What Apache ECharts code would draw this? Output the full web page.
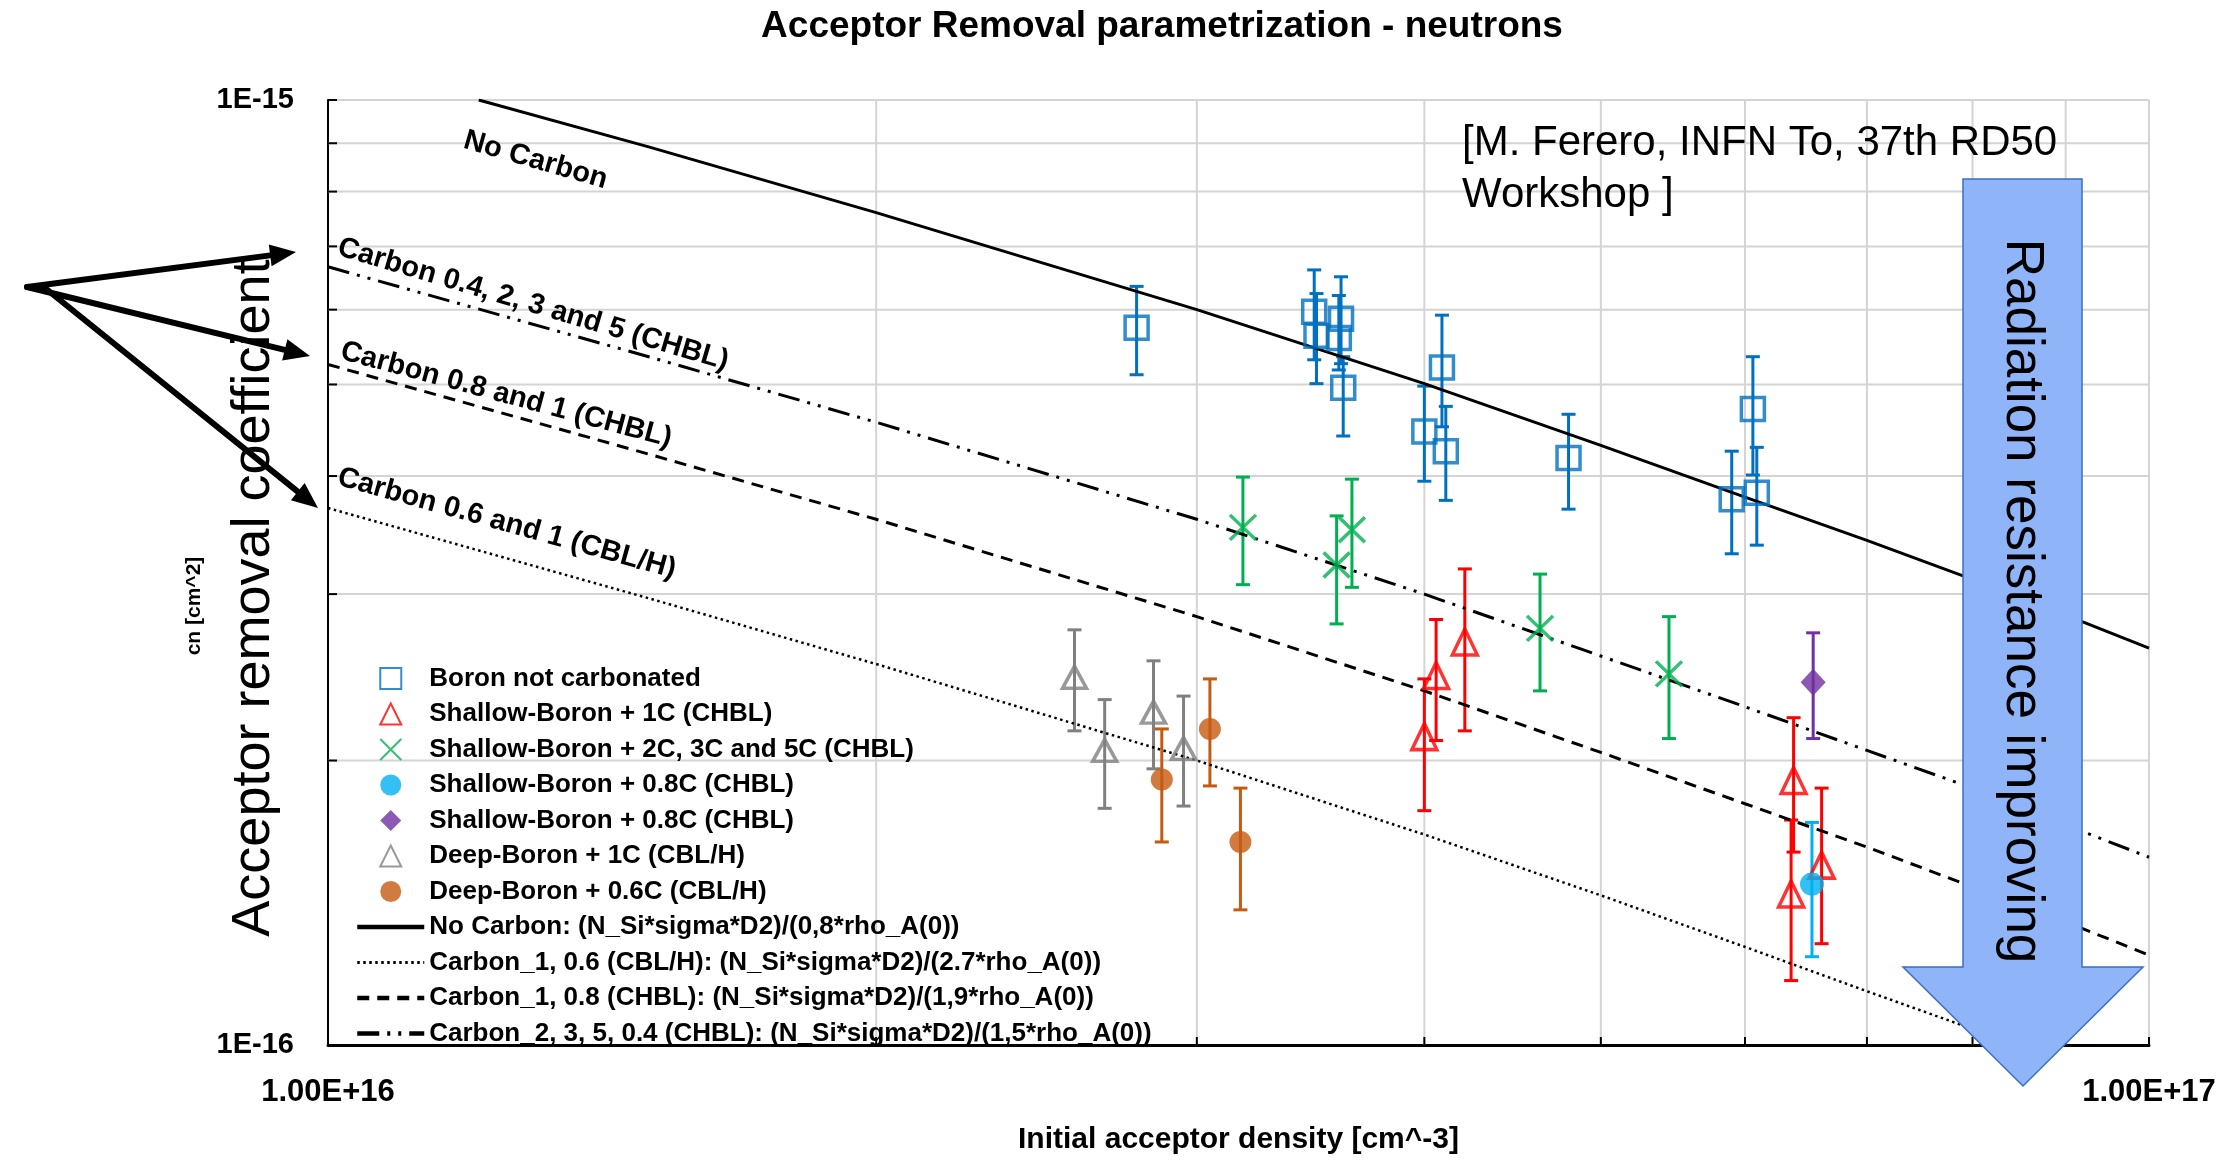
<!DOCTYPE html>
<html>
<head>
<meta charset="utf-8">
<script src="https://cdn.jsdelivr.net/npm/echarts@6/dist/echarts.min.js"></script>
<style>
  html, body { margin: 0; padding: 0; background: #ffffff; }
  #chart { width: 2239px; height: 1160px; }
</style>
</head>
<body>
<div id="chart"></div>
<script>
// ---- measured points: [density (cm^-3), c (cm^2), error low, error high] ----
const boronNotCarbonated = [
  [2.78e16, 5.74e-16, 5.12e-16, 6.35e-16],
  [3.48e16, 5.97e-16, 5.31e-16, 6.61e-16],
  [3.49e16, 5.63e-16, 5.01e-16, 6.24e-16],
  [3.60e16, 5.87e-16, 5.26e-16, 6.50e-16],
  [3.59e16, 5.60e-16, 5.18e-16, 6.21e-16],
  [3.61e16, 4.96e-16, 4.41e-16, 5.35e-16],
  [4.00e16, 4.46e-16, 3.95e-16, 4.98e-16],
  [4.09e16, 5.21e-16, 4.51e-16, 5.92e-16],
  [4.11e16, 4.25e-16, 3.77e-16, 4.74e-16],
  [4.80e16, 4.18e-16, 3.69e-16, 4.65e-16],
  [5.90e16, 3.78e-16, 3.31e-16, 4.25e-16],
  [6.06e16, 4.71e-16, 4.01e-16, 5.35e-16],
  [6.09e16, 3.84e-16, 3.38e-16, 4.29e-16]
];
const shallowBoron1C = [
  [4.00e16, 2.12e-16, 1.77e-16, 2.44e-16],
  [4.06e16, 2.46e-16, 2.10e-16, 2.82e-16],
  [4.21e16, 2.67e-16, 2.15e-16, 3.19e-16],
  [6.38e16, 1.905e-16, 1.60e-16, 2.22e-16],
  [6.36e16, 1.445e-16, 1.17e-16, 1.73e-16],
  [6.61e16, 1.55e-16, 1.28e-16, 1.87e-16]
];
const shallowBoron235C = [
  [3.18e16, 3.53e-16, 3.07e-16, 3.99e-16],
  [3.58e16, 3.22e-16, 2.79e-16, 3.63e-16],
  [3.65e16, 3.51e-16, 3.05e-16, 3.97e-16],
  [4.63e16, 2.76e-16, 2.37e-16, 3.15e-16],
  [5.45e16, 2.47e-16, 2.11e-16, 2.84e-16]
];
const shallowBoron08C_a = [
  [6.53e16, 1.48e-16, 1.24e-16, 1.72e-16]
];
const shallowBoron08C_b = [
  [6.54e16, 2.42e-16, 2.11e-16, 2.73e-16]
];
const deepBoron1C = [
  [2.57e16, 2.45e-16, 2.15e-16, 2.75e-16],
  [2.67e16, 2.05e-16, 1.78e-16, 2.32e-16],
  [2.84e16, 2.25e-16, 1.96e-16, 2.55e-16],
  [2.95e16, 2.06e-16, 1.79e-16, 2.34e-16]
];
const deepBoron06C = [
  [2.87e16, 1.91e-16, 1.64e-16, 2.16e-16],
  [3.05e16, 2.16e-16, 1.88e-16, 2.44e-16],
  [3.17e16, 1.64e-16, 1.39e-16, 1.87e-16]
];

// ---- parametrization curves ----
const noCarbonX = [1.21e16, 1.5e16, 2e16, 3e16, 4e16, 5e16, 6e16, 7e16, 8e16, 9e16, 1e17];
const noCarbonY = [1.00e-15, 8.92e-16, 7.60e-16, 6.00e-16, 5.01e-16, 4.31e-16, 3.80e-16, 3.42e-16, 3.11e-16, 2.85e-16, 2.63e-16];
const carbonX = [1e16, 1.5e16, 2e16, 3e16, 4e16, 5e16, 6e16, 7e16, 8e16, 9e16, 1e17];
const carbon2350p4Y = [6.66e-16, 5.35e-16, 4.56e-16, 3.60e-16, 3.00e-16, 2.58e-16, 2.28e-16, 2.05e-16, 1.87e-16, 1.71e-16, 1.58e-16];
const carbon1_08Y = [5.25e-16, 4.22e-16, 3.60e-16, 2.84e-16, 2.37e-16, 2.04e-16, 1.80e-16, 1.62e-16, 1.47e-16, 1.35e-16, 1.245e-16];
const carbon1_06X = [1e16, 1.5e16, 2e16, 3e16, 4e16, 5e16, 6e16, 7e16, 8e16, 8.4e16];
const carbon1_06Y = [3.70e-16, 2.97e-16, 2.53e-16, 2.00e-16, 1.67e-16, 1.44e-16, 1.27e-16, 1.14e-16, 1.04e-16, 1.00e-16];

// ---- axes ----
const X_MIN = 1e16, X_MAX = 1e17;
const Y_MIN = 1e-16, Y_MAX = 1e-15;
const xMinorGrid = [2e16, 3e16, 4e16, 5e16, 6e16, 7e16, 8e16, 9e16];
const yMinorGrid = [2e-16, 3e-16, 4e-16, 5e-16, 6e-16, 7e-16, 8e-16, 9e-16];

const FONT = '"Liberation Sans", Arial, sans-serif';
const GRID_COLOR = '#D4D4D4';

const names = {
  boron: 'Boron not carbonated',
  sb1: 'Shallow-Boron + 1C (CHBL)',
  sb235: 'Shallow-Boron + 2C, 3C and 5C (CHBL)',
  sb08a: 'Shallow-Boron + 0.8C (CHBL)',
  sb08b: 'Shallow-Boron + 0.8C (CHBL) ',
  db1: 'Deep-Boron + 1C (CBL/H)',
  db06: 'Deep-Boron + 0.6C (CBL/H)',
  noC: 'No Carbon: (N_Si*sigma*D2)/(0,8*rho_A(0))',
  c06: 'Carbon_1, 0.6 (CBL/H): (N_Si*sigma*D2)/(2.7*rho_A(0))',
  c08: 'Carbon_1, 0.8 (CHBL): (N_Si*sigma*D2)/(1,9*rho_A(0))',
  c04: 'Carbon_2, 3, 5, 0.4 (CHBL): (N_Si*sigma*D2)/(1,5*rho_A(0))'
};

// square-proportioned legend glyphs
const ICON_SQUARE = 'path://M0,0H10V10H0Z';
const ICON_TRIANGLE = 'path://M5,0L10,10L0,10Z';
const ICON_CROSS = 'path://M0,0L10,10M10,0L0,10';
const ICON_CIRCLE = 'path://M0,5A5,5,0,1,0,10,5A5,5,0,1,0,0,5Z';
const ICON_DIAMOND = 'path://M5,0L10,5L5,10L0,5Z';

function zip(xs, ys) { return xs.map((x, i) => [x, ys[i]]); }

// vertical error bar with caps
function errorBarSeries(data, color) {
  return {
    type: 'custom',
    data: data,
    encode: { x: 0, y: 1 },
    z: 3,
    silent: true,
    renderItem: function (params, api) {
      const x = api.value(0);
      const lo = api.coord([x, api.value(2)]);
      const hi = api.coord([x, api.value(3)]);
      const cap = 7;
      const st = { stroke: color, lineWidth: 3 };
      return {
        type: 'group',
        children: [
          { type: 'line', shape: { x1: lo[0], y1: lo[1], x2: hi[0], y2: hi[1] }, style: st },
          { type: 'line', shape: { x1: lo[0] - cap, y1: lo[1], x2: lo[0] + cap, y2: lo[1] }, style: st },
          { type: 'line', shape: { x1: hi[0] - cap, y1: hi[1], x2: hi[0] + cap, y2: hi[1] }, style: st }
        ]
      };
    }
  };
}

function markerSeries(name, data, symbol, size, color, hollow) {
  return {
    name: name,
    type: 'scatter',
    data: data,
    encode: { x: 0, y: 1 },
    symbol: symbol,
    symbolSize: size,
    z: 5,
    itemStyle: hollow
      ? { color: 'rgba(255,255,255,0)', borderColor: color, borderWidth: 3.5 }
      : { color: color, borderWidth: 0 }
  };
}

function curveSeries(name, data, dash, width) {
  return {
    name: name,
    type: 'line',
    data: data,
    symbol: 'none',
    showSymbol: false,
    clip: true,
    z: 4,
    lineStyle: { color: '#000000', width: width, type: dash, cap: 'butt' },
    itemStyle: { color: '#000000' }
  };
}

// minor grid lines with short inner ticks
function minorGridSeries(values, isX) {
  return {
    type: 'custom',
    silent: true,
    z: 1,
    data: values.map(v => isX ? [v, Y_MIN] : [X_MIN, v]),
    encode: { x: 0, y: 1 },
    renderItem: function (params, api) {
      const a = api.coord(isX ? [api.value(0), Y_MIN] : [X_MIN, api.value(1)]);
      const b = api.coord(isX ? [api.value(0), Y_MAX] : [X_MAX, api.value(1)]);
      const tick = isX
        ? { x1: a[0], y1: a[1], x2: a[0], y2: a[1] - 8 }
        : { x1: a[0], y1: a[1], x2: a[0] + 9, y2: a[1] };
      return {
        type: 'group',
        children: [
          { type: 'line', shape: { x1: a[0], y1: a[1], x2: b[0], y2: b[1] }, style: { stroke: GRID_COLOR, lineWidth: 2 } },
          { type: 'line', shape: tick, style: { stroke: '#000000', lineWidth: 2 } }
        ]
      };
    }
  };
}

// black pointer arrow
function pointer(x1, y1, x2, y2) {
  const len = Math.hypot(x2 - x1, y2 - y1);
  const ux = (x2 - x1) / len, uy = (y2 - y1) / len;
  const hl = 26, hw = 11;
  const bx = x2 - ux * hl, by = y2 - uy * hl;
  return [
    { type: 'line', z: 50, shape: { x1: x1, y1: y1, x2: bx, y2: by }, style: { stroke: '#000', lineWidth: 6, lineCap: 'round' } },
    { type: 'polygon', z: 50, shape: { points: [[x2, y2], [bx - uy * hw, by + ux * hw], [bx + uy * hw, by - ux * hw]] }, style: { fill: '#000' } }
  ];
}

function slantLabel(text, x, y, deg) {
  return {
    type: 'text', x: x, y: y, rotation: -deg * Math.PI / 180, z: 40,
    style: { text: text, x: 0, y: 6, font: 'bold 29px ' + FONT, fill: '#000', textAlign: 'left', align: 'left', textVerticalAlign: 'bottom', verticalAlign: 'bottom' }
  };
}

const hideLegendSymbol = { opacity: 0, color: 'rgba(0,0,0,0)', borderWidth: 0 };

const chart = echarts.init(document.getElementById('chart'), null, { renderer: 'canvas' });

const option = {
  backgroundColor: '#ffffff',
  animation: false,
  grid: { left: 328, right: 90, top: 100, bottom: 110, containLabel: false },
  xAxis: {
    type: 'log', logBase: 10, min: X_MIN, max: X_MAX,
    name: 'Initial acceptor density [cm^-3]',
    nameLocation: 'middle', nameGap: 80,
    nameTextStyle: { fontFamily: FONT, fontWeight: 'bold', fontSize: 30, color: '#000' },
    axisLine: { lineStyle: { color: '#000', width: 3 } },
    axisTick: { inside: true, length: 8, lineStyle: { color: '#000', width: 2 } },
    axisLabel: {
      margin: 32, fontFamily: FONT, fontWeight: 'bold', fontSize: 31, color: '#000',
      formatter: v => '1.00E+' + Math.round(Math.log10(v))
    },
    splitLine: { show: true, lineStyle: { color: GRID_COLOR, width: 2 } },
    minorTick: { show: false }
  },
  yAxis: {
    type: 'log', logBase: 10, min: Y_MIN, max: Y_MAX,
    axisLine: { show: true, lineStyle: { color: '#000', width: 2 } },
    axisTick: { inside: true, length: 9, lineStyle: { color: '#000', width: 2 } },
    axisLabel: {
      margin: 34, fontFamily: FONT, fontWeight: 'bold', fontSize: 29, color: '#000',
      formatter: v => '1E' + Math.round(Math.log10(v))
    },
    splitLine: { show: true, lineStyle: { color: GRID_COLOR, width: 2 } }
  },
  legend: {
    orient: 'vertical', left: 355, top: 664, padding: 0,
    itemWidth: 67, itemHeight: 21, itemGap: 6.5,
    selectedMode: false,
    symbolKeepAspect: true,
    textStyle: { fontFamily: FONT, fontWeight: 'bold', fontSize: 26, lineHeight: 29, color: '#000' },
    data: [
      { name: names.boron, icon: ICON_SQUARE },
      { name: names.sb1, icon: ICON_TRIANGLE },
      { name: names.sb235, icon: ICON_CROSS },
      { name: names.sb08a, icon: ICON_CIRCLE },
      { name: names.sb08b, icon: ICON_DIAMOND },
      { name: names.db1, icon: ICON_TRIANGLE },
      { name: names.db06, icon: ICON_CIRCLE },
      { name: names.noC, itemStyle: hideLegendSymbol, lineStyle: { width: 4.5 } },
      { name: names.c06, itemStyle: hideLegendSymbol, lineStyle: { width: 3 } },
      { name: names.c08, itemStyle: hideLegendSymbol, lineStyle: { width: 4.5 } },
      { name: names.c04, itemStyle: hideLegendSymbol, lineStyle: { width: 4.5 } }
    ]
  },
  series: [
    minorGridSeries(xMinorGrid, true),
    minorGridSeries(yMinorGrid, false),

    curveSeries(names.noC, zip(noCarbonX, noCarbonY), 'solid', 3),
    curveSeries(names.c06, zip(carbon1_06X, carbon1_06Y), [2.5, 3.5], 2.5),
    curveSeries(names.c08, zip(carbonX, carbon1_08Y), [12, 8], 3),
    curveSeries(names.c04, zip(carbonX, carbon2350p4Y), [22, 8, 3, 8, 3, 8], 3),

    errorBarSeries(boronNotCarbonated, '#0070C0'),
    errorBarSeries(shallowBoron1C, '#FF0000'),
    errorBarSeries(shallowBoron235C, '#00B050'),
    errorBarSeries(shallowBoron08C_a, '#00B0F0'),
    errorBarSeries(shallowBoron08C_b, '#7030A0'),
    errorBarSeries(deepBoron1C, '#808080'),
    errorBarSeries(deepBoron06C, '#C55A11'),

    markerSeries(names.boron, boronNotCarbonated, 'rect', 23, '#0070C0', true),
    markerSeries(names.sb1, shallowBoron1C, 'triangle', [25, 26], '#FF0000', true),
    markerSeries(names.sb235, shallowBoron235C, ICON_CROSS, [26, 25], '#00B050', true),
    markerSeries(names.sb08a, shallowBoron08C_a, 'circle', [24, 23], '#00B0F0', false),
    markerSeries(names.sb08b, shallowBoron08C_b, 'diamond', [25, 27], '#7030A0', false),
    markerSeries(names.db1, deepBoron1C, 'triangle', [24, 22], '#808080', true),
    markerSeries(names.db06, deepBoron06C, 'circle', 22, '#C55A11', false)
  ],
  graphic: {
    elements: [
      {
        type: 'text', x: 1162, y: 27, z: 40,
        style: { text: 'Acceptor Removal parametrization - neutrons', font: 'bold 37px ' + FONT, fill: '#000',
                 textAlign: 'center', align: 'center', textVerticalAlign: 'middle', verticalAlign: 'middle' }
      },
      {
        type: 'text', x: 1462, y: 117, z: 40,
        style: { text: '[M. Ferero, INFN To, 37th RD50\nWorkshop ]', font: '42px ' + FONT, lineHeight: 52, fill: '#000',
                 textAlign: 'left', align: 'left', textVerticalAlign: 'top', verticalAlign: 'top' }
      },
      {
        type: 'text', x: 194, y: 606, rotation: Math.PI / 2, z: 40,
        style: { text: 'cn [cm^2]', font: 'bold 21px ' + FONT, fill: '#000',
                 textAlign: 'center', align: 'center', textVerticalAlign: 'middle', verticalAlign: 'middle' }
      },
      {
        type: 'text', x: 254, y: 598, rotation: Math.PI / 2, z: 45,
        style: { text: 'Acceptor removal coefficient', font: '54px ' + FONT, fill: '#000',
                 textAlign: 'center', align: 'center', textVerticalAlign: 'middle', verticalAlign: 'middle' }
      },
      slantLabel('No Carbon', 462, 148, 16),
      slantLabel('Carbon 0.4, 2, 3 and 5 (CHBL)', 336, 255, 16.5),
      slantLabel('Carbon 0.8 and 1 (CHBL)', 339, 359, 15),
      slantLabel('Carbon 0.6 and 1 (CBL/H)', 336, 485, 15.5),
      ...pointer(27, 287, 296, 252),
      ...pointer(27, 287, 310, 356),
      ...pointer(45, 288, 318, 508),
      {
        type: 'polygon', z: 60,
        shape: { points: [[1963, 179], [2082, 179], [2082, 967], [2143, 967], [2023, 1086], [1903, 967], [1963, 967]] },
        style: { fill: '#8FB4F8', stroke: '#3A6FC4', lineWidth: 1.5 }
      },
      {
        type: 'text', x: 2022, y: 601, rotation: -Math.PI / 2, z: 61,
        style: { text: 'Radiation resistance improving', font: '53px ' + FONT, fill: '#000',
                 textAlign: 'center', align: 'center', textVerticalAlign: 'middle', verticalAlign: 'middle' }
      }
    ]
  }
};

chart.setOption(option);
</script>
</body>
</html>
